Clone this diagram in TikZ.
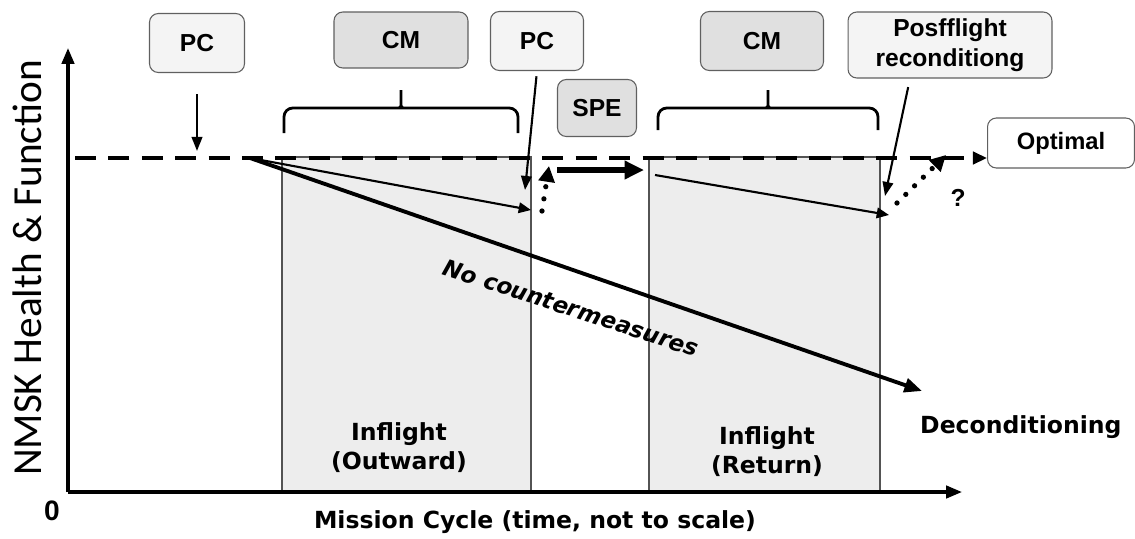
\documentclass[tikz,border=0pt]{standalone}
\usepackage{fontspec}
\setmainfont{Liberation Sans}
\newfontfamily\djv{DejaVu Sans}
\newfontfamily\calib{Carlito}
\usetikzlibrary{arrows.meta}

\begin{document}
\begin{tikzpicture}[x=0.02cm, y=-0.02cm,
        tag/.style={draw=gray!75!black, rounded corners=5pt, line width=0.6pt,
          font=\fontsize{14}{16}\selectfont\bfseries, align=center, inner sep=1pt},
        lightbox/.style={tag, fill=gray!9},
        darkbox/.style={tag, fill=gray!24},
        phase/.style={draw=gray!65!black, fill=gray!14, line width=0.7pt, inner sep=0pt},
        lbl/.style={font=\djv\bfseries\fontsize{13.4}{16.5}\selectfont, align=center},
        axis/.style={line width=1.8pt, -{Triangle[length=9pt,width=7pt]}},
        brace/.style={line width=1.6pt, rounded corners=5pt},
        ptr/.style={line width=1.2pt, -{Triangle[length=8pt,width=6pt]}},
        trend/.style={line width=1.2pt, -{Triangle[length=7pt,width=6pt]}},
        dots/.style={line width=3pt, line cap=round, dash pattern=on 0pt off 7pt,
          -{Triangle[length=9pt,width=9pt]}}]
        \useasboundingbox (0,0) rectangle (1135,538);

        % inflight phases
        \node[phase, minimum width=4.98cm, minimum height=6.7cm] (out) at (406.5,324.5) {};
        \node[phase, minimum width=4.62cm, minimum height=6.7cm] (ret) at (764.5,324.5) {};
        \node[lbl] (outlbl) at (399,448) {Inflight\\(Outward)};
        \node[lbl] (retlbl) at (767,452) {Inflight\\(Return)};

        % boxes on top
        \node[lightbox, minimum width=1.9cm, minimum height=1.18cm] (pc1) at (197,43) {PC};
        \node[darkbox, minimum width=2.68cm, minimum height=1.12cm] (cm1) at (401,40) {CM};
        \node[lightbox, minimum width=1.86cm, minimum height=1.18cm] (pc2) at (537,41) {PC};
        \node[darkbox, minimum width=1.58cm, minimum height=1.14cm] (spe) at (597,108) {SPE};
        \node[darkbox, minimum width=2.46cm, minimum height=1.18cm] (cm2) at (762,41) {CM};
        \node[lightbox, minimum width=4.08cm, minimum height=1.32cm] (posf) at (950,45) {Posfflight\\[1pt]reconditiong};
        \node[tag, fill=white, font=\fontsize{13.5}{16}\selectfont\bfseries,
          minimum width=2.94cm, minimum height=1cm] (opt) at (1061,143) {Optimal};

        % axes
        \coordinate (o) at (68,492);
        \coordinate (ytop) at (68,48);
        \coordinate (xend) at (962,492);
        \draw[axis] (o) -- (ytop);
        \draw[axis] (o) -- (xend);
        \node[font=\fontsize{16}{18}\selectfont\bfseries] (zero) at (52,511) {0};
        \node[lbl] (xlbl) at (535,522) {Mission Cycle (time, not to scale)};
        \node[font=\calib\fontsize{23.5}{25}\selectfont, rotate=90] (ylbl) at (27,268) {NMSK Health \& Function};

        % optimal level
        \coordinate (d0) at (75,158);
        \draw[line width=2.6pt, dash pattern=on 12pt off 7pt, -{Triangle[length=8pt,width=7pt]}]
          (d0) -- (d0 -| opt.west);

        % braces
        \draw[brace] (284,133) -- (284,108) -- (395,108) to[out=0,in=-90] (401,99)
          -- (401,85) -- (401,99) to[out=-90,in=180] (407,108) -- (518,108) -- (518,133);
        \draw[brace] (658,130) -- (658,108) -- (762,108) to[out=0,in=-90] (768,99)
          -- (768,85) -- (768,99) to[out=-90,in=180] (774,108) -- (878,108) -- (878,130);

        % trends
        \coordinate (s) at (250,158);
        \coordinate (e1) at (531,210);
        \coordinate (e2) at (922,391);
        \coordinate (s2) at (655,175);
        \coordinate (e3) at (889,215);
        \draw[trend] (s) -- (e1);
        \draw[line width=2.2pt, -{Triangle[length=10pt,width=8pt]}] (s) -- (e2);
        \draw[trend] (s2) -- (e3);
        \node[font=\djv\bfseries\itshape\fontsize{13}{16}\selectfont, rotate=-18] (nocm) at (571,308) {No countermeasures};
        \node[lbl, anchor=west] (decon) at (914,427) {Deconditioning};

        % pointers
        \coordinate (pc1t) at (197,151);
        \coordinate (pc2t) at (525,190);
        \coordinate (posft) at (885,196);
        \draw[ptr, shorten <=12pt] (pc1.south) -- (pc1t);
        \draw[ptr, shorten <=3pt] (pc2.south) -- (pc2t);
        \draw[ptr, shorten <=5pt] ([xshift=-0.8cm]posf.south) -- (posft);

        % recovery
        \coordinate (spea) at (557,170);
        \coordinate (speb) at (644,170);
        \draw[line width=3.4pt, -{Triangle[length=11pt,width=10pt]}] (spea) -- (speb);
        \coordinate (r1a) at (542,211);
        \coordinate (r1b) at (549,166);
        \draw[dots] (r1a) -- (r1b);
        \coordinate (r2a) at (897,203);
        \coordinate (r2b) at (946,155);
        \draw[dots] (r2a) -- (r2b);
        \node[font=\fontsize{14}{16}\selectfont\bfseries] (q) at (958,198) {?};
\end{tikzpicture}
\end{document}
